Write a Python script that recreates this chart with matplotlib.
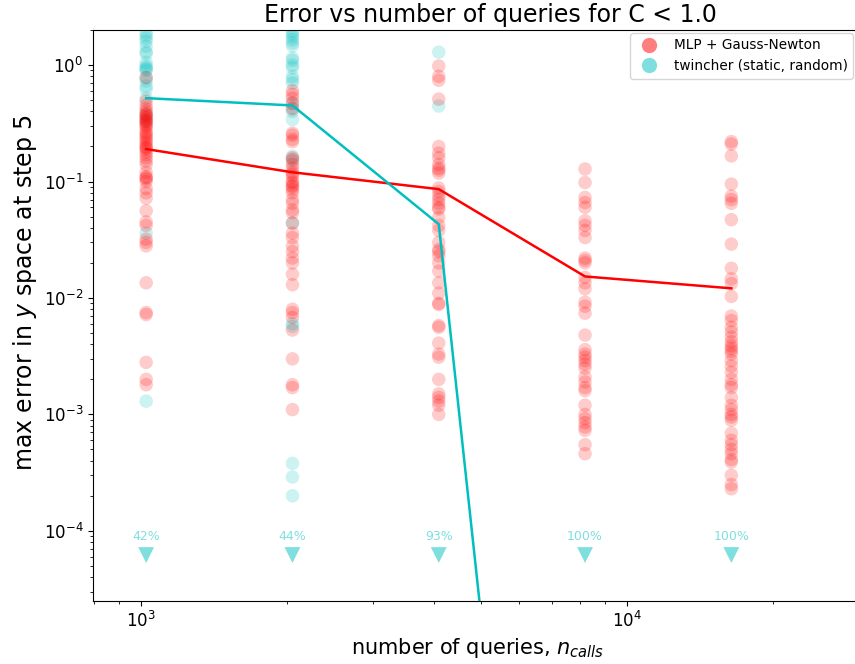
import matplotlib
matplotlib.use("Agg")
import matplotlib.pyplot as plt
from matplotlib.lines import Line2D
import numpy as np

# ---------------- data ----------------
x_levels = [1024, 2048, 4096, 8192, 16384]

mlp_1024 = [0.78, 0.49, 0.45, 0.42, 0.40, 0.38, 0.37, 0.36, 0.35, 0.34, 0.33, 0.32, 0.31,
            0.30, 0.29, 0.27, 0.26, 0.25, 0.24, 0.23, 0.22, 0.21, 0.20, 0.195, 0.19, 0.18,
            0.17, 0.16, 0.15, 0.14, 0.12, 0.11, 0.108, 0.105, 0.10, 0.087, 0.08, 0.072,
            0.056, 0.045, 0.042, 0.032, 0.030, 0.028, 0.0135, 0.0075, 0.0072, 0.0028,
            0.0020, 0.0018]
mlp_2048 = [0.60, 0.56, 0.52, 0.47, 0.42, 0.26, 0.25, 0.23, 0.22, 0.16, 0.155, 0.14, 0.13,
            0.12, 0.115, 0.11, 0.10, 0.097, 0.092, 0.09, 0.085, 0.08, 0.07, 0.065, 0.057,
            0.054, 0.044, 0.036, 0.033, 0.028, 0.025, 0.022, 0.020, 0.016, 0.013, 0.008,
            0.0075, 0.0068, 0.0053, 0.003, 0.0018, 0.0017, 0.0011]
mlp_4096 = [0.98, 0.80, 0.74, 0.51, 0.20, 0.175, 0.16, 0.14, 0.13, 0.125, 0.118, 0.088,
            0.082, 0.075, 0.07, 0.065, 0.06, 0.058, 0.049, 0.042, 0.038, 0.030, 0.026,
            0.025, 0.023, 0.020, 0.017, 0.0135, 0.011, 0.009, 0.0088, 0.0058, 0.0056,
            0.0041, 0.0033, 0.0031, 0.002, 0.0015, 0.0014, 0.0013, 0.0012, 0.001]
mlp_8192 = [0.128, 0.098, 0.073, 0.066, 0.06, 0.046, 0.042, 0.038, 0.033, 0.022, 0.021,
            0.020, 0.015, 0.0135, 0.012, 0.0092, 0.0085, 0.0074, 0.0048, 0.0036, 0.0033,
            0.0031, 0.0029, 0.0027, 0.0025, 0.0021, 0.0019, 0.0017, 0.0016, 0.0012, 0.001,
            0.00092, 0.00085, 0.00078, 0.00073, 0.00055, 0.00046]
mlp_16384 = [0.22, 0.21, 0.166, 0.095, 0.075, 0.07, 0.065, 0.047, 0.029, 0.018, 0.0146,
             0.0133, 0.0103, 0.007, 0.0064, 0.0056, 0.0051, 0.0046, 0.0042, 0.0039, 0.0037,
             0.0035, 0.0033, 0.0029, 0.0026, 0.0023, 0.002, 0.0018, 0.0017, 0.0014, 0.0012,
             0.0011, 0.001, 0.00095, 0.00089, 0.00069, 0.0006, 0.00055, 0.0005, 0.00046,
             0.00041, 0.00039, 0.0003, 0.00025, 0.00023]

tw_1024 = [1.9, 1.8, 1.7, 1.6, 1.45, 1.3, 1.25, 1.05, 0.98, 0.95, 0.92, 0.9, 0.78, 0.73,
           0.66, 0.62, 0.52, 0.38, 0.33, 0.036, 0.0013]
tw_2048 = [1.95, 1.85, 1.75, 1.65, 1.55, 1.46, 1.15, 1.1, 1.0, 0.95, 0.8, 0.75, 0.7, 0.47,
           0.43, 0.40, 0.34, 0.165, 0.15, 0.044, 0.006, 0.0057, 3.8e-4, 2.9e-4, 2.0e-4]
tw_4096 = [1.29, 0.445]
tw_8192 = []
tw_16384 = []

mlp_median = [0.19, 0.12, 0.086, 0.0153, 0.0121]
tw_median = [0.52, 0.45, 0.043, 1e-13, 1e-13]

fail_pct = ["42%", "44%", "93%", "100%", "100%"]
fail_marker_y = 6.2e-5
fail_text_y = 9.0e-5

labels = ["MLP + Gauss-Newton", "twincher (static, random)"]
# ---------------------------------------

mlp_all = [mlp_1024, mlp_2048, mlp_4096, mlp_8192, mlp_16384]
tw_all = [tw_1024, tw_2048, tw_4096, tw_8192, tw_16384]

RED = "red"
CYAN = "c"

fig = plt.figure(figsize=(8.55, 6.64), dpi=100)
ax = fig.add_axes([93 / 855, 63 / 664, 769.5 / 855, 571 / 664])

for xv, vals in zip(x_levels, tw_all):
    if vals:
        ax.scatter([xv] * len(vals), vals, s=95, color=CYAN, alpha=0.2,
                   edgecolors="none", zorder=2)
for xv, vals in zip(x_levels, mlp_all):
    ax.scatter([xv] * len(vals), vals, s=95, color=RED, alpha=0.2,
               edgecolors="none", zorder=2)

ax.plot(x_levels, mlp_median, color=RED, lw=1.8, zorder=3)
ax.plot(x_levels, tw_median, color=CYAN, lw=1.8, zorder=3)

ax.scatter(x_levels, [fail_marker_y] * len(x_levels), marker="v", s=130,
           color=CYAN, alpha=0.5, edgecolors="none", zorder=3)
for xv, t in zip(x_levels, fail_pct):
    ax.text(xv, fail_text_y, t, color=CYAN, alpha=0.5, fontsize=9,
            ha="center", va="center")

ax.set_xscale("log")
ax.set_yscale("log")
ax.set_xlim(796, 30500)
ax.set_ylim(2.5e-5, 2.0)

ax.set_title("Error vs number of queries for C < 1.0", fontsize=17, x=0.516)
ax.set_xlabel("number of queries, $n_{calls}$", fontsize=15)
ax.set_ylabel("max error in $y$ space at step 5", fontsize=17, y=0.54, labelpad=3)
ax.tick_params(labelsize=12)

handles = [Line2D([], [], marker="o", ls="none", color=RED, alpha=0.5,
                  markeredgecolor="none", markersize=11),
           Line2D([], [], marker="o", ls="none", color=CYAN, alpha=0.5,
                  markeredgecolor="none", markersize=11)]
ax.legend(handles, labels, loc="upper right", fontsize=9.8, borderaxespad=0,
          bbox_to_anchor=(853 / 855, (664 - 33) / 664),
          bbox_transform=fig.transFigure)

fig.savefig("out.png", dpi=100)
